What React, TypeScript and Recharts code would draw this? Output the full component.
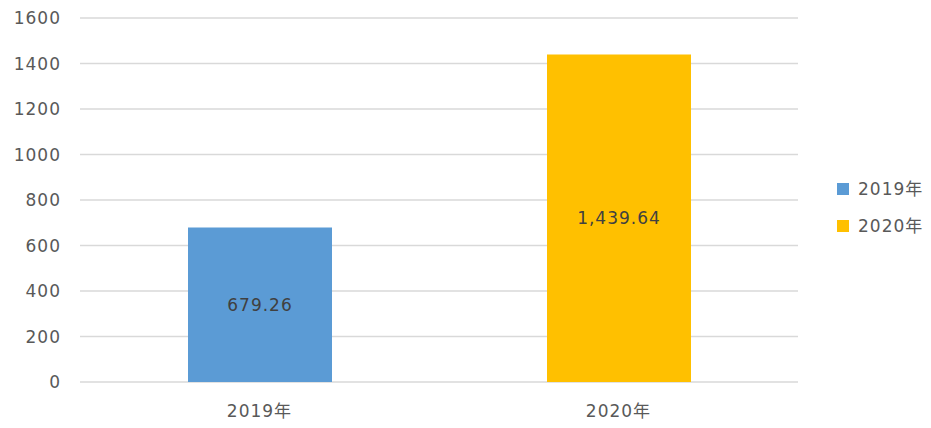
import { Bar, BarChart, CartesianGrid, Cell, LabelList, XAxis, YAxis } from "recharts";

const years = ["2019年", "2020年"];
const amounts = [679.26, 1439.64];
const barColors = ["#5B9BD5", "#FFC000"];
const yTicks = [0, 200, 400, 600, 800, 1000, 1200, 1400, 1600];

const rows = years.map((year, i) => ({ year, amount: amounts[i] }));

const font = "'DejaVu Sans', 'Noto Sans CJK SC', sans-serif";
const textColor = "#595959";

function formatAmount(v: unknown) {
  return Number(v).toLocaleString("en-US", {
    minimumFractionDigits: 2,
    maximumFractionDigits: 2,
  });
}

// legend is drawn outside the chart so it doesn't eat plot height
function YearLegend() {
  return (
    <div
      style={{
        position: "absolute",
        left: 837,
        top: 179,
        display: "flex",
        flexDirection: "column",
        gap: "17px",
      }}
    >
      {years.map((year, i) => (
        <div
          key={year}
          style={{
            display: "flex",
            alignItems: "center",
            fontFamily: font,
            fontSize: "17px",
            letterSpacing: "1px",
            color: textColor,
            lineHeight: "20px",
          }}
        >
          <span
            style={{
              width: "12px",
              height: "12px",
              background: barColors[i],
              marginRight: "9px",
              display: "inline-block",
            }}
          />
          {year}
        </div>
      ))}
    </div>
  );
}

export default function App() {
  return (
    <div
      style={{
        position: "absolute",
        left: 0,
        top: 0,
        width: 931,
        height: 428,
        background: "#fff",
      }}
    >
      <BarChart
        width={931}
        height={428}
        data={rows}
        margin={{ top: 18, right: 133, bottom: 0, left: 0 }}
      >
        <CartesianGrid vertical={false} stroke="#D9D9D9" strokeWidth={1.5} />
        <XAxis
          dataKey="year"
          height={46}
          axisLine={false}
          tickLine={false}
          tickSize={0}
          tickMargin={23}
          tick={{ fill: textColor, fontSize: 17, fontFamily: font, letterSpacing: 1 }}
        />
        <YAxis
          width={80}
          domain={[0, 1600]}
          ticks={yTicks}
          axisLine={false}
          tickLine={false}
          tickSize={0}
          tickMargin={19}
          tick={{ fill: textColor, fontSize: 17, fontFamily: font, letterSpacing: 1 }}
        />
        <Bar dataKey="amount" barSize={144} isAnimationActive={false}>
          {rows.map((row, i) => (
            <Cell key={row.year} fill={barColors[i]} />
          ))}
          <LabelList
            dataKey="amount"
            position="center"
            formatter={formatAmount}
            style={{ fill: "#404040", fontSize: 17, fontFamily: font, letterSpacing: 1 }}
          />
        </Bar>
      </BarChart>
      <YearLegend />
    </div>
  );
}
